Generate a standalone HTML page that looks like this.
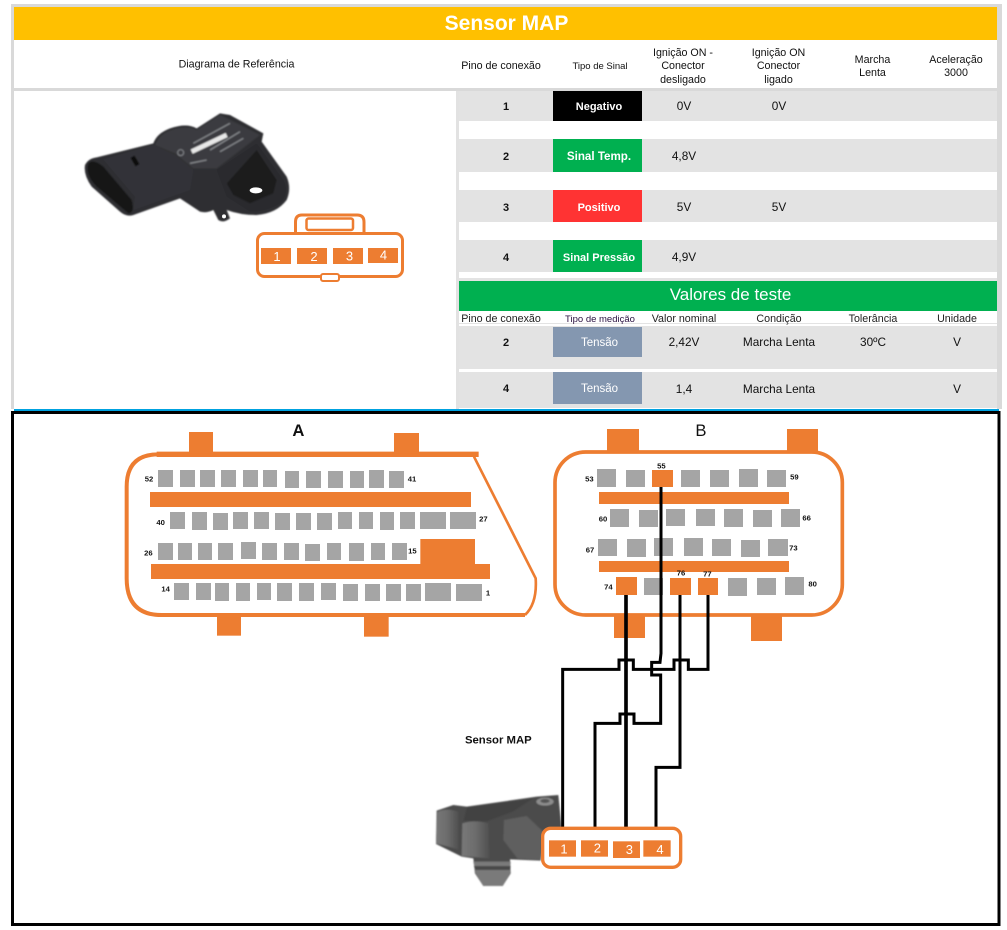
<!DOCTYPE html>
<html lang="pt">
<head>
<meta charset="utf-8">
<title>Sensor MAP</title>
<style>
html,body{margin:0;padding:0;background:#fff;width:1007px;height:930px;overflow:hidden}
svg{display:block;position:absolute;left:0;top:0}
text{font-family:"Liberation Sans",sans-serif}
</style>
</head>
<body>
<svg width="1007" height="930" viewBox="0 0 1007 930" xmlns="http://www.w3.org/2000/svg">
<defs>
<filter id="soft" x="-5%" y="-5%" width="110%" height="110%"><feGaussianBlur stdDeviation="2"/></filter>
<linearGradient id="gr" x1="0" y1="0" x2="1" y2="0"><stop offset="0" stop-color="#787878"/><stop offset="0.5" stop-color="#6c6c6c"/><stop offset="1" stop-color="#505050"/></linearGradient>
</defs>
<rect width="1007" height="930" fill="#fff"/>

<!-- top table frame -->
<rect x="11" y="4" width="991" height="405" fill="#d9d9d9"/>
<rect x="14" y="7" width="983" height="402" fill="#fff"/>
<rect x="14" y="7" width="983" height="33" fill="#ffc000"/>
<text x="506.500" y="30" font-size="21" font-weight="bold" fill="#fff" text-anchor="middle">Sensor MAP</text>
<rect x="14" y="88" width="983" height="3" fill="#d9d9d9"/>
<rect x="456" y="91" width="3" height="318" fill="#e2e2e2"/>

<g font-size="10.700" fill="#111" text-anchor="middle">
<text x="236.500" y="67.500">Diagrama de Referência</text>
<text x="501" y="69">Pino de conexão</text>
<text x="600" y="69" font-size="9.500">Tipo de Sinal</text>
<text x="683" y="56">Ignição ON -</text><text x="683" y="69">Conector</text><text x="683" y="83">desligado</text>
<text x="778.500" y="56">Ignição ON</text><text x="778.500" y="69">Conector</text><text x="778.500" y="83">ligado</text>
<text x="872.500" y="63">Marcha</text><text x="872.500" y="76">Lenta</text>
<text x="956" y="63">Aceleração</text><text x="956" y="76">3000</text>
</g>

<!-- rows -->
<g fill="#e3e3e3">
<rect x="459" y="91" width="538" height="30"/>
<rect x="459" y="139" width="538" height="33"/>
<rect x="459" y="190" width="538" height="32"/>
<rect x="459" y="240" width="538" height="32"/>
<rect x="459" y="278" width="538" height="3"/>
<rect x="459" y="326" width="538" height="43"/>
<rect x="459" y="372" width="538" height="36"/>
<rect x="459" y="323" width="538" height="1"/>
</g>
<rect x="553" y="91" width="89" height="30" fill="#000"/>
<rect x="553" y="139" width="89" height="33" fill="#00b050"/>
<rect x="553" y="190" width="89" height="32" fill="#ff3333"/>
<rect x="553" y="240" width="89" height="32" fill="#00b050"/>
<rect x="459" y="281" width="538" height="30" fill="#00b050"/>
<rect x="553" y="327" width="89" height="30" fill="#8497b0"/>
<rect x="553" y="372" width="89" height="32" fill="#8497b0"/>

<g font-size="11.800" fill="#111" text-anchor="middle">
<g font-weight="bold" font-size="11">
<text x="506" y="110">1</text><text x="506" y="160">2</text><text x="506" y="211">3</text><text x="506" y="261">4</text>
<text x="506" y="346">2</text><text x="506" y="392">4</text>
</g>
<text x="684" y="110">0V</text><text x="779" y="110">0V</text>
<text x="684" y="160">4,8V</text>
<text x="684" y="211">5V</text><text x="779" y="211">5V</text>
<text x="684" y="261">4,9V</text>
<text x="684" y="346">2,42V</text><text x="779" y="346">Marcha Lenta</text><text x="873" y="346">30ºC</text><text x="957" y="346">V</text>
<text x="684" y="393">1,4</text><text x="779" y="393">Marcha Lenta</text><text x="957" y="393">V</text>
</g>
<g font-size="11" font-weight="bold" fill="#fff" text-anchor="middle">
<text x="599" y="110">Negativo</text>
<text x="599" y="160" font-size="11.600">Sinal Temp.</text>
<text x="599" y="211">Positivo</text>
<text x="599" y="261">Sinal Pressão</text>
</g>
<g font-size="11.500" fill="#fff" text-anchor="middle">
<text x="599.500" y="346">Tensão</text>
<text x="599.500" y="392">Tensão</text>
</g>
<text x="730.500" y="300" font-size="17" fill="#fff" text-anchor="middle">Valores de teste</text>
<g font-size="10.700" fill="#222" text-anchor="middle">
<text x="501" y="322">Pino de conexão</text>
<text x="600" y="322" font-size="9.500" fill="#2a1040">Tipo de medição</text>
<text x="684" y="322">Valor nominal</text>
<text x="779" y="322">Condição</text>
<text x="873" y="322">Tolerância</text>
<text x="957" y="322">Unidade</text>
</g>

<!-- sensor photo 1 -->
<g transform="translate(60 100) scale(0.33333)">
<g filter="url(#soft)">
<path d="M75 195 Q85 175 110 172 L280 130 Q290 100 330 85 Q380 68 410 85 L480 40 L510 45 L610 100 L605 125 L680 230 Q695 265 680 300 Q650 340 590 345 Q540 345 500 330 L510 355 Q490 370 475 360 L460 330 Q440 340 420 335 L360 295 L220 345 Q200 352 180 335 L95 260 Q70 225 75 195 Z" fill="#2e2f32"/>
<path d="M285 135 Q300 100 335 90 Q380 75 410 90 L480 45 L600 105 L470 205 L400 205 L345 160 Z" fill="#3a3b3f"/>
<path d="M130 178 L280 135 L345 165 L400 210 L390 270 L220 330 L225 290 Z" fill="#323337"/>
<path d="M85 190 Q100 175 130 200 L215 300 Q225 340 205 340 L110 260 Q75 225 85 190 Z" fill="#121314"/>
<path d="M470 210 L590 130 L670 240 Q690 280 660 310 Q620 335 570 335 L500 290 Z" fill="#2a2b2d"/>
<path d="M500 250 L590 150 L650 240 L640 280 L570 310 L520 285 Z" fill="#1c1d1f"/>
<path d="M395 155 L500 105" stroke="#e8e8e8" stroke-width="14" fill="none"/>
<g stroke="#85878b" stroke-width="4" fill="none">
<path d="M400 130 L510 70"/><path d="M450 150 L540 95"/><path d="M480 155 L550 115"/><path d="M390 190 L440 180"/>
<circle cx="362" cy="158" r="9" stroke-width="3"/>
</g>
<rect x="218" y="168" width="14" height="30" fill="#111" transform="rotate(-30 225 183)"/>
</g>
<ellipse cx="588" cy="271" rx="19" ry="9" fill="#fff"/>
<circle cx="492" cy="349" r="6" fill="#fff"/>
</g>

<!-- connector icon 1 -->
<g fill="none" stroke="#ed7d31" stroke-width="3">
<path d="M295.500 233 V222 Q295.500 215 302 215 H357 Q364 215 364 222 V233" />
<rect x="306.500" y="218.500" width="46.500" height="11.500" rx="2" stroke-width="2.500"/>
<rect x="257.500" y="233.500" width="145" height="43" rx="7" fill="#fff"/>
<rect x="321" y="274" width="18" height="7" rx="2" stroke-width="2" fill="#fff"/>
</g>
<g fill="#ed7d31">
<rect x="261" y="248" width="30" height="16"/><rect x="297" y="248" width="30" height="16"/>
<rect x="333" y="248" width="30" height="16"/><rect x="368" y="248" width="30" height="15"/>
</g>
<g font-size="13" fill="#fff" text-anchor="middle">
<text x="277" y="261">1</text><text x="314" y="261">2</text><text x="349.500" y="260.500">3</text><text x="383.500" y="259.500">4</text>
</g>

<!-- lower frame -->
<rect x="14" y="409" width="985" height="2" fill="#00a2e0"/>
<rect x="12.500" y="412.500" width="986.500" height="512" fill="#fff" stroke="#000" stroke-width="3"/>

<!-- connector A -->
<g transform="translate(110 415) scale(0.33333)">
<path d="M1106 118 H140" fill="none" stroke="#ed7d31" stroke-width="16"/>
<path d="M145 118 Q50 118 50 215 V490 Q50 600 155 600 H1245" fill="none" stroke="#ed7d31" stroke-width="12"/>
<path d="M1245 600 Q1282 565 1277 490 L1092 125" fill="none" stroke="#ed7d31" stroke-width="8"/>
<g fill="#ed7d31">
<rect x="237" y="51" width="72" height="64"/><rect x="852" y="54" width="75" height="61"/>
<rect x="321" y="604" width="72" height="58"/><rect x="762" y="604" width="74" height="61"/>
<rect x="120" y="231" width="963" height="45"/><rect x="123" y="447" width="1017" height="45"/>
<rect x="931" y="372" width="164" height="78"/>
</g>
<g fill="#a5a5a5">
<rect x="144" y="165" width="45" height="51"/><rect x="210" y="165" width="45" height="51"/><rect x="270" y="165" width="45" height="51"/><rect x="333" y="165" width="45" height="51"/><rect x="399" y="165" width="45" height="51"/><rect x="459" y="165" width="42" height="51"/><rect x="525" y="168" width="42" height="51"/><rect x="588" y="168" width="45" height="51"/><rect x="654" y="168" width="45" height="51"/><rect x="720" y="168" width="42" height="51"/><rect x="777" y="165" width="45" height="54"/><rect x="837" y="168" width="45" height="51"/>
<rect x="180" y="291" width="45" height="51"/><rect x="246" y="291" width="45" height="54"/><rect x="309" y="294" width="45" height="51"/><rect x="369" y="291" width="45" height="51"/><rect x="432" y="291" width="45" height="51"/><rect x="495" y="294" width="45" height="51"/><rect x="558" y="294" width="45" height="51"/><rect x="621" y="294" width="45" height="51"/><rect x="684" y="291" width="42" height="51"/><rect x="747" y="291" width="42" height="51"/><rect x="810" y="291" width="42" height="54"/><rect x="870" y="291" width="45" height="51"/><rect x="930" y="291" width="78" height="51"/><rect x="1020" y="291" width="78" height="51"/>
<rect x="144" y="384" width="45" height="51"/><rect x="204" y="384" width="42" height="51"/><rect x="264" y="384" width="42" height="51"/><rect x="324" y="384" width="45" height="51"/><rect x="393" y="381" width="45" height="51"/><rect x="456" y="384" width="45" height="51"/><rect x="522" y="384" width="45" height="51"/><rect x="585" y="387" width="45" height="51"/><rect x="651" y="384" width="42" height="51"/><rect x="717" y="384" width="45" height="54"/><rect x="783" y="384" width="42" height="51"/><rect x="846" y="384" width="45" height="51"/>
<rect x="192" y="504" width="45" height="51"/><rect x="258" y="504" width="45" height="51"/><rect x="315" y="504" width="42" height="54"/><rect x="378" y="504" width="42" height="54"/><rect x="441" y="504" width="42" height="51"/><rect x="501" y="504" width="45" height="54"/><rect x="567" y="504" width="45" height="54"/><rect x="633" y="504" width="45" height="51"/><rect x="699" y="507" width="45" height="51"/><rect x="765" y="507" width="45" height="51"/><rect x="828" y="507" width="45" height="51"/><rect x="888" y="507" width="45" height="51"/><rect x="945" y="504" width="78" height="54"/><rect x="1038" y="507" width="78" height="51"/>
</g>
<g font-size="23" font-weight="bold" fill="#111" text-anchor="middle">
<text x="117" y="200">52</text><text x="906" y="200">41</text><text x="152" y="330">40</text><text x="1120" y="320">27</text><text x="115" y="422">26</text><text x="907" y="416">15</text><text x="167" y="530">14</text><text x="1134" y="542">1</text>
<text x="565" y="63" font-size="50">A</text>
</g>
</g>

<!-- connector B -->
<g transform="translate(540 415) scale(0.33333)">
<rect x="45" y="111" width="862" height="489" rx="92" fill="none" stroke="#ed7d31" stroke-width="11"/>
<g fill="#ed7d31">
<rect x="201" y="42" width="96" height="70"/><rect x="741" y="42" width="93" height="70"/>
<rect x="222" y="600" width="93" height="69"/><rect x="633" y="600" width="93" height="78"/>
<rect x="177" y="231" width="570" height="36"/><rect x="177" y="438" width="570" height="33"/>
<rect x="336" y="165" width="63" height="51"/><rect x="228" y="486" width="63" height="54"/><rect x="390" y="489" width="63" height="51"/><rect x="474" y="489" width="60" height="51"/>
</g>
<g fill="#a5a5a5">
<rect x="171" y="162" width="57" height="54"/><rect x="258" y="165" width="57" height="51"/><rect x="423" y="165" width="57" height="51"/><rect x="510" y="165" width="57" height="51"/><rect x="597" y="162" width="57" height="54"/><rect x="681" y="165" width="57" height="51"/>
<rect x="210" y="282" width="57" height="54"/><rect x="297" y="285" width="57" height="51"/><rect x="378" y="282" width="57" height="51"/><rect x="468" y="282" width="57" height="51"/><rect x="552" y="282" width="57" height="54"/><rect x="639" y="285" width="57" height="51"/><rect x="723" y="282" width="57" height="54"/>
<rect x="174" y="372" width="57" height="51"/><rect x="261" y="372" width="57" height="54"/><rect x="342" y="369" width="57" height="54"/><rect x="432" y="369" width="57" height="54"/><rect x="516" y="372" width="57" height="51"/><rect x="603" y="375" width="57" height="51"/><rect x="684" y="372" width="60" height="51"/>
<rect x="312" y="489" width="57" height="51"/><rect x="564" y="489" width="57" height="54"/><rect x="651" y="489" width="57" height="51"/><rect x="735" y="486" width="57" height="54"/>
</g>
<g font-size="23" font-weight="bold" fill="#111" text-anchor="middle">
<text x="148" y="200">53</text><text x="364" y="161">55</text><text x="763" y="194">59</text><text x="189" y="320">60</text><text x="800" y="317">66</text><text x="150" y="413">67</text><text x="760" y="407">73</text><text x="205" y="524">74</text><text x="423" y="482">76</text><text x="502" y="485">77</text><text x="818" y="515">80</text>
<text x="483" y="63" font-size="50" font-weight="normal">B</text>
</g>
</g>

<!-- sensor photo 2 -->
<g transform="translate(430 790) scale(0.33333)">
<g filter="url(#soft)">
<path d="M20 62 L70 45 L110 50 L320 20 L385 15 L395 115 L345 125 L332 212 L240 208 L242 250 L218 288 L160 288 L135 250 L130 205 L95 200 L18 162 Z" fill="#4c4c4c"/>
<path d="M22 66 Q50 52 85 66 L85 178 L18 160 Z" fill="url(#gr)"/>
<path d="M97 100 Q135 88 175 100 L178 205 L95 198 Z" fill="url(#gr)"/>
<path d="M130 215 L242 215 L240 250 L218 288 L160 288 L137 250 Z" fill="#7a7a7a"/>
<path d="M132 228 L242 228 L240 240 L136 240 Z" fill="#4a4a4a"/>
<path d="M110 52 L310 25 L250 65 L170 95 L100 92 Z" fill="#434343"/>
<path d="M222 90 L290 78 L345 130 L332 210 L262 205 L220 150 Z" fill="#5e5e5e"/>
<ellipse cx="345" cy="35" rx="26" ry="12" fill="#8c8c8c"/>
<ellipse cx="345" cy="33" rx="14" ry="6" fill="#555"/>
</g>
</g>

<!-- wires + connector -->
<g transform="translate(420 640) scale(0.33333)">
<text x="235" y="310" font-size="34" font-weight="bold" fill="#111" text-anchor="middle">Sensor MAP</text>
<g fill="none" stroke="#000" stroke-width="9" stroke-linejoin="miter">
<path d="M618 -135 V562" stroke-width="11"/>
<path d="M780 -135 V382 H708 V562"/>
<path d="M864 -135 V88 H805 V60 H762 V88 H690 V88 H640 V60 H597 V88 H428 V562"/>
<path d="M723 -459 V40 L720 67 H695 V105 H722 V250 H642 V222 H600 V250 H525 V565"/>
</g>
<rect x="368" y="565" width="414" height="117" rx="24" fill="#fff" stroke="#ed7d31" stroke-width="10"/>
<g fill="#ed7d31">
<rect x="387" y="601" width="81" height="49"/><rect x="483" y="601" width="81" height="49"/><rect x="579" y="604" width="81" height="50"/><rect x="670" y="601" width="82" height="49"/>
</g>
<g font-size="39" fill="#fff" text-anchor="middle">
<text x="432" y="640">1</text><text x="532" y="638">2</text><text x="628" y="642">3</text><text x="720" y="642">4</text>
</g>
</g>
</svg>
</body>
</html>
